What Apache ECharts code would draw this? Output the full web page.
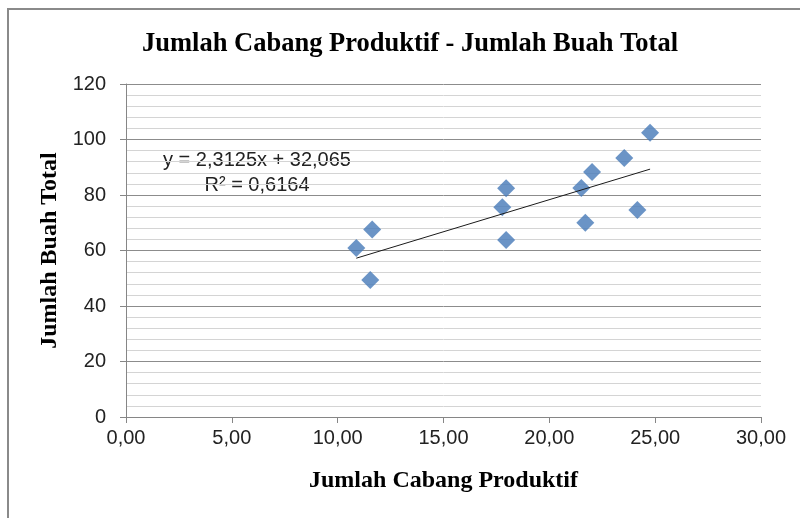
<!DOCTYPE html>
<html>
<head>
<meta charset="utf-8">
<script src="https://cdn.jsdelivr.net/npm/echarts@6/dist/echarts.min.js"></script>
<style>
  html, body { margin: 0; padding: 0; background: #fff; }
  #chart { width: 800px; height: 518px; }
</style>
</head>
<body>
<div id="chart"></div>
<script>
// values
var cabang = [10.88, 11.63, 11.54, 17.96, 17.78, 17.96, 22.02, 21.51, 21.70, 24.76, 23.54, 24.16];
var buah   = [60.9, 67.6, 49.4, 82.4, 75.6, 63.8, 88.3, 82.5, 70.0, 102.4, 93.3, 74.6];

// linear trend as printed on the chart
var slope = 2.3125;
var intercept = 32.065;
var rSquared = '0,6164';

var chart = echarts.init(document.getElementById('chart'));

var points = cabang.map(function (x, i) { return [x, buah[i]]; });
var xMin = Math.min.apply(null, cabang);
var xMax = Math.max.apply(null, cabang);
var trend = [[xMin, slope * xMin + intercept], [xMax, slope * xMax + intercept]];

function comma(v, d) {
  return v.toFixed(d).replace('.', ',');
}

var labelFont = { fontFamily: 'Liberation Sans', fontSize: 20, color: '#222' };
var nameFont = { fontFamily: 'Liberation Serif', fontWeight: 'bold', fontSize: 24, color: '#000' };

chart.setOption({
  animation: false,
  title: {
    text: 'Jumlah Cabang Produktif - Jumlah Buah Total',
    left: 137,
    top: 26,
    textStyle: { fontFamily: 'Liberation Serif', fontWeight: 'bold', fontSize: 26.5, color: '#000' }
  },
  grid: { left: 126, right: 39, top: 84, bottom: 101 },
  xAxis: {
    type: 'value',
    min: 0, max: 30, interval: 5,
    name: 'Jumlah Cabang Produktif',
    nameLocation: 'middle',
    nameGap: 52,
    nameTextStyle: nameFont,
    axisLine: { show: true, lineStyle: { color: '#868686', width: 1 } },
    axisTick: { show: true, length: 6, lineStyle: { color: '#868686' } },
    axisLabel: Object.assign({ margin: 11, formatter: function (v) { return comma(v, 2); } }, labelFont),
    splitLine: { show: false }
  },
  yAxis: {
    type: 'value',
    min: 0, max: 120, interval: 20,
    name: 'Jumlah Buah Total',
    nameLocation: 'middle',
    nameGap: 60,
    nameTextStyle: nameFont,
    axisLine: { show: true, lineStyle: { color: '#868686', width: 1 } },
    axisTick: { show: true, length: 6, lineStyle: { color: '#868686' } },
    axisLabel: Object.assign({ margin: 20 }, labelFont),
    splitLine: { show: true, lineStyle: { color: '#8c8c8c', width: 1 } },
    minorTick: { show: false, splitNumber: 5 },
    minorSplitLine: { show: true, lineStyle: { color: '#d4d4d4', width: 1 } }
  },
  series: [
    {
      type: 'line',
      data: trend,
      symbol: 'none',
      lineStyle: { color: '#1a1a1a', width: 1 },
      z: 3
    },
    {
      type: 'scatter',
      data: points,
      symbol: 'diamond',
      symbolSize: 18,
      itemStyle: { color: '#4679b8' },
      z: 2
    }
  ],
  graphic: [
    {
      type: 'rect',
      shape: { x: 8, y: 9, width: 820, height: 540 },
      style: { fill: 'none', stroke: '#8a8a8a', lineWidth: 2 },
      silent: true
    },
    {
      type: 'text',
      x: 257, y: 160,
      style: {
        text: 'y = ' + comma(slope, 4) + 'x + ' + comma(intercept, 3),
        textAlign: 'center', textVerticalAlign: 'middle',
        fontFamily: 'Liberation Sans', fontSize: 20, fill: '#222'
      }
    },
    {
      type: 'text',
      x: 257, y: 185,
      style: {
        text: 'R\u00b2 = ' + rSquared,
        textAlign: 'center', textVerticalAlign: 'middle',
        fontFamily: 'Liberation Sans', fontSize: 20, fill: '#222'
      }
    }
  ]
});
</script>
</body>
</html>
